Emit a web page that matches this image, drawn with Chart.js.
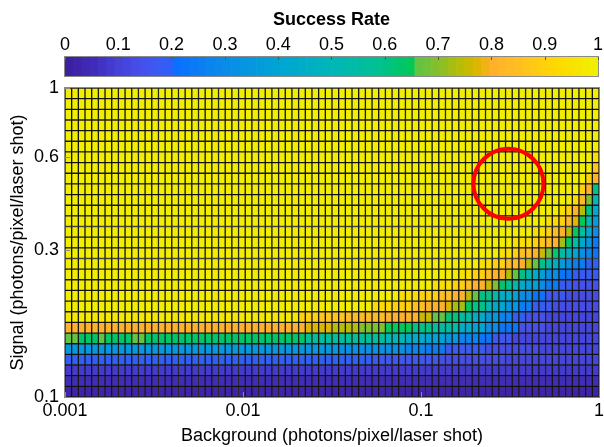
<!DOCTYPE html>
<html>
<head>
<meta charset="utf-8">
<script src="https://cdn.jsdelivr.net/npm/chart.js@4.4.0/dist/chart.umd.min.js"></script>
<style>
  html, body { margin: 0; padding: 0; background: #ffffff; }
  #wrap { position: relative; width: 604px; height: 447px; overflow: hidden; }
  #cbBox { position: absolute; left: 0; top: 0; width: 604px; height: 85px; }
  #hmBox { position: absolute; left: 0; top: 70px; width: 604px; height: 377px; }
</style>
</head>
<body>
<div id="wrap">
  <div id="cbBox"><canvas id="cb" width="604" height="85"></canvas></div>
  <div id="hmBox"><canvas id="hm" width="604" height="377"></canvas></div>
</div>
<script>
// ---------------- data ----------------
const xTickValues = [0.001, 0.01, 0.1, 1];
const xTickLabels = ['0.001', '0.01', '0.1', '1'];
const yTickValues = [0.1, 0.3, 0.6, 1];
const yTickLabels = ['0.1', '0.3', '0.6', '1'];
const cbTickValues = [0, 0.1, 0.2, 0.3, 0.4, 0.5, 0.6, 0.7, 0.8, 0.9, 1];
const cbTickLabels = ['0', '0.1', '0.2', '0.3', '0.4', '0.5', '0.6', '0.7', '0.8', '0.9', '1'];

const xTitle = 'Background (photons/pixel/laser shot)';
const yTitle = 'Signal (photons/pixel/laser shot)';
const cbTitle = 'Success Rate';

const nCols = 80;   // background steps (columns, left -> right)

// success rate per cell, bottom row first; each row is run-length [value, count] over the 80 columns
const successRate = [
  [[0.02, 80]],
  [[0.05, 80]],
  [[0.09, 80]],
  [[0.19, 46], [0.16, 10], [0.13, 10], [0.11, 14]],
  [[0.35, 41], [0.32, 10], [0.28, 3], [0.24, 3], [0.18, 6], [0.13, 8], [0.11, 9]],
  [[0.66, 2], [0.64, 3], [0.66, 1], [0.64, 4], [0.66, 2], [0.64, 8], [0.63, 16], [0.57, 12], [0.5, 3], [0.45, 3], [0.4, 3], [0.35, 2], [0.28, 3], [0.22, 2], [0.16, 3], [0.12, 13]],
  [[0.81, 36], [0.77, 4], [0.74, 4], [0.7, 4], [0.65, 4], [0.6, 3], [0.55, 4], [0.45, 2], [0.4, 2], [0.3, 2], [0.22, 3], [0.15, 4], [0.12, 8]],
  [[0.97, 35], [0.9, 3], [0.86, 4], [0.83, 6], [0.8, 5], [0.75, 2], [0.66, 2], [0.62, 2], [0.55, 2], [0.45, 2], [0.35, 2], [0.27, 2], [0.2, 2], [0.15, 3], [0.12, 8]],
  [[1, 46], [0.93, 3], [0.9, 3], [0.85, 2], [0.81, 3], [0.77, 1], [0.73, 2], [0.65, 1], [0.6, 2], [0.5, 1], [0.43, 2], [0.33, 2], [0.25, 2], [0.18, 3], [0.14, 7]],
  [[1, 50], [0.95, 3], [0.9, 3], [0.85, 2], [0.81, 2], [0.74, 1], [0.66, 1], [0.6, 2], [0.53, 1], [0.45, 2], [0.38, 1], [0.3, 2], [0.23, 2], [0.17, 3], [0.14, 5]],
  [[1, 55], [0.95, 3], [0.9, 2], [0.85, 1], [0.81, 2], [0.76, 1], [0.7, 1], [0.64, 1], [0.58, 1], [0.52, 1], [0.45, 1], [0.38, 2], [0.3, 1], [0.24, 2], [0.18, 2], [0.15, 4]],
  [[1, 59], [0.95, 2], [0.9, 2], [0.85, 1], [0.81, 2], [0.74, 1], [0.66, 1], [0.6, 1], [0.53, 1], [0.45, 1], [0.38, 1], [0.3, 2], [0.23, 2], [0.18, 4]],
  [[1, 62], [0.95, 2], [0.9, 2], [0.83, 2], [0.8, 1], [0.74, 1], [0.66, 1], [0.6, 1], [0.52, 1], [0.44, 1], [0.36, 1], [0.3, 1], [0.25, 2], [0.2, 2]],
  [[1, 65], [0.95, 2], [0.9, 1], [0.85, 2], [0.81, 1], [0.76, 1], [0.68, 1], [0.62, 1], [0.55, 1], [0.47, 1], [0.4, 1], [0.32, 1], [0.27, 1], [0.22, 1]],
  [[1, 67], [0.95, 3], [0.9, 1], [0.87, 1], [0.83, 1], [0.8, 1], [0.73, 1], [0.64, 1], [0.55, 1], [0.43, 1], [0.33, 1], [0.24, 1]],
  [[1, 70], [0.95, 2], [0.9, 1], [0.83, 1], [0.8, 1], [0.74, 1], [0.65, 1], [0.55, 1], [0.42, 1], [0.3, 1]],
  [[1, 72], [0.95, 1], [0.93, 1], [0.9, 1], [0.82, 1], [0.77, 1], [0.65, 1], [0.5, 1], [0.37, 1]],
  [[1, 74], [0.95, 1], [0.9, 1], [0.81, 1], [0.74, 1], [0.6, 1], [0.43, 1]],
  [[1, 76], [0.93, 1], [0.82, 1], [0.7, 1], [0.5, 1]],
  [[1, 77], [0.9, 1], [0.8, 1], [0.6, 1]],
  [[1, 78], [0.9, 1], [0.8, 1]],
  [[1, 79], [0.87, 1]],
  [[1, 79], [0.95, 1]],
  [[1, 80]],
  [[1, 80]],
  [[1, 80]],
  [[1, 80]],
  [[1, 80]],
  [[1, 80]]
];

// highlighted point (red circle) in data coordinates
const markBackground = [0.31];
const markSignal = [0.49];

// ---------------- colour map (64 discrete levels) ----------------
const cmapStops = [
  [0.000, '#3a1f9e'], [0.050, '#402ab8'], [0.100, '#4540d8'], [0.150, '#4652ee'],
  [0.195, '#2f60f6'], [0.210, '#0a70ff'], [0.300, '#0a8ce8'], [0.400, '#00a4d4'],
  [0.500, '#00b6b8'], [0.580, '#00c096'], [0.650, '#00c85a'], [0.660, '#5ec444'],
  [0.700, '#84c02c'], [0.750, '#c0bc00'], [0.780, '#e4b400'], [0.800, '#ffb02c'],
  [0.860, '#ffc21e'], [0.920, '#ffd800'], [1.000, '#f0f000']
];
const cmapLevels = 64;
function hexRgb(h) { return [parseInt(h.slice(1,3),16), parseInt(h.slice(3,5),16), parseInt(h.slice(5,7),16)]; }
function cmapContinuous(t) {
  for (let i = 1; i < cmapStops.length; i++) {
    if (t <= cmapStops[i][0]) {
      const [t0, c0] = cmapStops[i-1], [t1, c1] = cmapStops[i];
      const f = (t - t0) / (t1 - t0);
      const a = hexRgb(c0), b = hexRgb(c1);
      return 'rgb(' + a.map((v, k) => Math.round(v + (b[k] - v) * f)).join(',') + ')';
    }
  }
  return cmapStops[cmapStops.length-1][1];
}
function cmap(v) {
  const lvl = Math.min(cmapLevels - 1, Math.max(0, Math.floor(v * cmapLevels)));
  return cmapContinuous((lvl + 0.5) / cmapLevels);
}

// ---------------- common ----------------
const FONT = "'Liberation Sans', Arial, Helvetica, sans-serif";
Chart.defaults.font.family = FONT;
Chart.defaults.color = '#000';

const framePlugin = {
  id: 'frame',
  afterDatasetsDraw(chart, args, opts) {
    const a = chart.chartArea, ctx = chart.ctx;
    ctx.save();
    ctx.strokeStyle = opts.color || '#8a8a8a';
    ctx.lineWidth = 1;
    ctx.strokeRect(Math.round(a.left) - 0.5, Math.round(a.top) - 0.5, Math.round(a.right - a.left) + 1, Math.round(a.bottom - a.top) + 1);
    (opts.ticks || []).forEach(t => {
      const s = chart.scales[t.scale];
      s.ticks.forEach(tk => {
        const p = Math.round(s.getPixelForValue(tk.value)) + 0.5;
        ctx.beginPath();
        ctx.strokeStyle = t.color;
        if (t.dir === 'down') { ctx.moveTo(p, a.top); ctx.lineTo(p, a.top + t.len); }
        else if (t.dir === 'up') { ctx.moveTo(p, a.bottom); ctx.lineTo(p, a.bottom - t.len); }
        else if (t.dir === 'right') { ctx.moveTo(a.left, p); ctx.lineTo(a.left + t.len, p); }
        ctx.stroke();
      });
    });
    ctx.restore();
  }
};

// ---------------- colour bar ----------------
const cbIdx = Array.from({length: cmapLevels}, (_, i) => i);
new Chart(document.getElementById('cb'), {
  type: 'bar',
  data: {
    labels: cbIdx,
    datasets: [{
      xAxisID: 'cbIdx', yAxisID: 'cbY',
      data: cbIdx.map(() => [0, 1]),
      backgroundColor: cbIdx.map(i => cmapContinuous((i + 0.5) / cmapLevels)),
      borderWidth: 0, barPercentage: 1, categoryPercentage: 1
    }]
  },
  options: {
    responsive: false, animation: false, events: [],
    layout: { autoPadding: false, padding: { left: 65, right: 5, top: 0, bottom: 9 } },
    plugins: {
      legend: { display: false }, tooltip: { enabled: false },
      frame: { color: '#8a8a8a', ticks: [{ scale: 'x', dir: 'down', len: 3, color: '#555' }] }
    },
    scales: {
      cbIdx: { type: 'category', display: false, offset: true },
      cbY: { type: 'linear', display: false, min: 0, max: 1 },
      x: {
        type: 'linear', position: 'top', min: 0, max: 1, offset: false,
        afterBuildTicks: s => { s.ticks = cbTickValues.map(v => ({ value: v })); },
        afterFit: s => { s.height = 57; },
        grid: { display: false, drawTicks: false, offset: false }, border: { display: false },
        ticks: { autoSkip: false, maxRotation: 0, padding: 1, font: { size: 18 }, color: '#000',
                 callback: (v, i) => cbTickLabels[i] },
        title: { display: true, text: cbTitle, font: { size: 18, weight: 'bold' }, color: '#000', padding: { top: 9, bottom: 0 } }
      }
    }
  },
  plugins: [framePlugin]
});

// ---------------- heat map ----------------
function expandRow(runs) {
  const out = [];
  runs.forEach(([v, n]) => { for (let k = 0; k < n; k++) out.push(v); });
  return out;
}
const colIdx = Array.from({length: nCols}, (_, i) => i);
const cellSets = successRate.map((runs, r) => {
  const vals = expandRow(runs);
  return {
    type: 'bar', xAxisID: 'xIdx', yAxisID: 'yIdx', order: 1,
    data: vals.map(() => [r, r + 1]),
    backgroundColor: vals.map(cmap),
    borderColor: 'rgba(0,0,0,0.88)', borderWidth: 1, borderSkipped: false,
    grouped: false, barPercentage: 1, categoryPercentage: 1
  };
});
const markSet = {
  type: 'scatter', xAxisID: 'x', yAxisID: 'y', order: 0,
  data: markBackground.map((b, i) => ({ x: b, y: markSignal[i] })),
  pointRadius: 35, pointHoverRadius: 35, pointBorderWidth: 4, pointHoverBorderWidth: 4,
  borderColor: '#ff0000', pointBorderColor: '#ff0000', backgroundColor: 'rgba(0,0,0,0)', pointBackgroundColor: 'rgba(0,0,0,0)'
};

new Chart(document.getElementById('hm'), {
  type: 'bar',
  data: { labels: colIdx, datasets: [...cellSets, markSet] },
  options: {
    responsive: false, animation: false, events: [],
    layout: { autoPadding: false, padding: { left: 0, right: 5, top: 18, bottom: 0 } },
    plugins: {
      legend: { display: false }, tooltip: { enabled: false },
      frame: { color: '#8a8a8a', ticks: [
        { scale: 'x', dir: 'up', len: 5, color: '#8a8a8a' },
        { scale: 'y', dir: 'right', len: 5, color: '#8a8a8a' }
      ] }
    },
    scales: {
      xIdx: { type: 'category', display: false, offset: true },
      yIdx: { type: 'linear', display: false, min: 0, max: successRate.length },
      x: {
        type: 'logarithmic', position: 'bottom', min: 0.001, max: 1, offset: false,
        afterBuildTicks: s => { s.ticks = xTickValues.map(v => ({ value: v })); },
        afterFit: s => { s.height = 50; s.paddingLeft = 0; s.paddingRight = 0; },
        grid: { display: false, drawTicks: false, offset: false }, border: { display: false },
        ticks: { autoSkip: false, maxRotation: 0, padding: 3, font: { size: 18 }, color: '#000',
                 callback: (v, i) => xTickLabels[i] },
        title: { display: true, text: xTitle, font: { size: 18 }, color: '#000', padding: { top: 0, bottom: 0 } }
      },
      y: {
        type: 'logarithmic', position: 'left', min: 0.1, max: 1, offset: false,
        afterBuildTicks: s => { s.ticks = yTickValues.map(v => ({ value: v })); },
        afterFit: s => { s.width = 65; s.paddingTop = 0; s.paddingBottom = 0; },
        grid: { display: false, drawTicks: false, offset: false }, border: { display: false },
        ticks: { autoSkip: false, padding: 6, font: { size: 18 }, color: '#000',
                 callback: (v, i) => yTickLabels[i] },
        title: { display: true, text: yTitle, font: { size: 18 }, color: '#000', padding: { top: 7, bottom: 0 } }
      }
    }
  },
  plugins: [framePlugin]
});
</script>
</body>
</html>
